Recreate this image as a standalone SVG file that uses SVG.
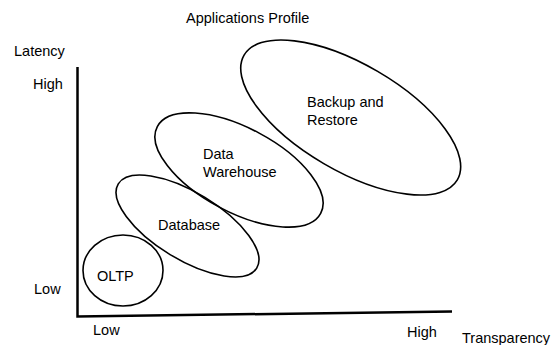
<svg xmlns="http://www.w3.org/2000/svg" width="557" height="345" viewBox="0 0 557 345">
<style>
text{font-family:"Liberation Sans",Arial,sans-serif;font-size:14.5px;fill:#000}
.shape{fill:none;stroke:#000;stroke-width:1.6}
.axis{fill:none;stroke:#000;stroke-width:2.5}
</style>
<rect width="557" height="345" fill="#fff"/>
<text x="186" y="23">Applications Profile</text>
<g id="axes">
<path class="axis" d="M77.5,67 V316.5 L452,311.5"/>
<text x="14" y="56">Latency</text>
<text x="33" y="89">High</text>
<text x="34" y="294">Low</text>
<text x="93" y="335">Low</text>
<text x="407" y="337">High</text>
<text x="462" y="343">Transparency</text>
</g>
<g id="oltp">
<ellipse class="shape" cx="123" cy="270.5" rx="40" ry="35.5"/>
<text x="97" y="281">OLTP</text>
</g>
<g id="database">
<ellipse class="shape" cx="187.5" cy="226" rx="81" ry="33.5" transform="rotate(31.3 187.5 226)"/>
<text x="158" y="230">Database</text>
</g>
<g id="datawarehouse">
<ellipse class="shape" cx="239" cy="170" rx="92.5" ry="42" transform="rotate(28 239 170)"/>
<text x="203" y="159">Data</text>
<text x="203" y="177">Warehouse</text>
</g>
<g id="backup">
<ellipse class="shape" cx="350.7" cy="117.5" rx="123.5" ry="53.4" transform="rotate(30.3 350.7 117.5)"/>
<text x="307" y="107">Backup and</text>
<text x="307" y="125">Restore</text>
</g>
<g id="connectors"></g>
</svg>
